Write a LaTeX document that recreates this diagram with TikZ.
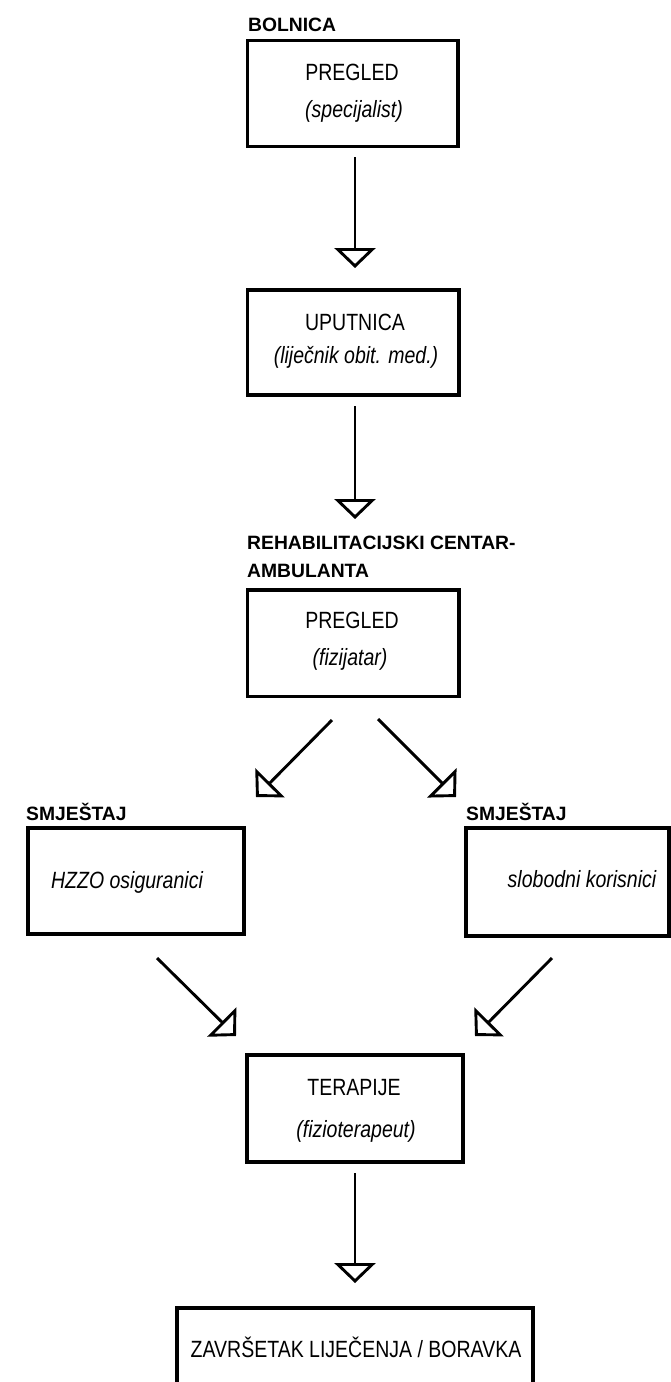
\documentclass[tikz,border=0pt]{standalone}
\usepackage{fontspec}
\setmainfont{Liberation Sans}
\newfontfamily\narrowfont[FakeStretch=0.83]{Liberation Sans}
\usetikzlibrary{arrows.meta}
\begin{document}
\begin{tikzpicture}[x=1pt,y=-1pt,
  boxst/.style={draw, line width=3.3pt, rectangle, inner sep=0pt},
  lblst/.style={anchor=base west, inner sep=0pt, font=\fontsize{19.3}{23}\selectfont\bfseries},
  txtst/.style={anchor=base, inner sep=0pt, font=\narrowfont\fontsize{23.5}{28}\selectfont},
  ittxt/.style={txtst, font=\narrowfont\fontsize{23.5}{28}\selectfont\itshape},
  flowarrow/.style={line width=2.9pt, -{Triangle[open, length=20pt, width=41pt]}}
]
\useasboundingbox (0,0) rectangle (671,1382);
\fill[white] (0,0) rectangle (671,1382);

% labels
\node[lblst] (lbolnica) at (248,31) {BOLNICA};
\node[lblst] (lrehab1) at (247,549) {REHABILITACIJSKI CENTAR-};
\node[lblst] (lrehab2) at (247,577) {AMBULANTA};
\node[lblst] (lsmjl) at (26,820) {SMJEŠTAJ};
\node[lblst] (lsmjr) at (466,820) {SMJEŠTAJ};

% boxes
\node[boxst, minimum width=210.5pt, minimum height=106pt] (b1) at (352.75,93.7) {};
\node[boxst, minimum width=211.5pt, minimum height=105pt] (b2) at (353.25,342.5) {};
\node[boxst, minimum width=211.5pt, minimum height=106.5pt] (b3) at (353.25,643.25) {};
\node[boxst, minimum width=216pt, minimum height=106pt] (bl) at (136,881) {};
\node[boxst, minimum width=203pt, minimum height=108pt] (br) at (567.5,882) {};
\node[boxst, minimum width=216pt, minimum height=107pt] (bt) at (355,1108.5) {};
\node[boxst, minimum width=356pt, minimum height=100pt] (bz) at (355,1358) {};

% texts
\node[txtst] (t1a) at (352,80) {PREGLED};
\node[ittxt] (t1b) at (354,117) {(specijalist)};
\node[txtst] (t2a) at (355,330) {UPUTNICA};
\node[ittxt] (t2b) at (356,363) {(liječnik obit. med.)};
\node[txtst] (t3a) at (352,628) {PREGLED};
\node[ittxt] (t3b) at (350,665) {(fizijatar)};
\node[ittxt] (tl) at (127,888) {HZZO osiguranici};
\node[ittxt] (tr) at (582,887) {slobodni korisnici};
\node[txtst] (tta) at (354,1095) {TERAPIJE};
\node[ittxt] (ttb) at (356,1137) {(fizioterapeut)};
\node[txtst] (tz) at (356,1357) {ZAVRŠETAK LIJEČENJA / BORAVKA};

% connector end points
\coordinate (a1s) at (355,157);  \coordinate (a1e) at (355,268);
\coordinate (a2s) at (355,406);  \coordinate (a2e) at (355,519);
\coordinate (a3s) at (332,720);  \coordinate (a3e) at (256,797);
\coordinate (a4s) at (378,719);  \coordinate (a4e) at (456,797);
\coordinate (a5s) at (157,958);  \coordinate (a5e) at (236,1036);
\coordinate (a6s) at (552,958);  \coordinate (a6e) at (475,1036);
\coordinate (a7s) at (355,1173); \coordinate (a7e) at (355,1283);

\draw[flowarrow] (a1s) -- (a1e);
\draw[flowarrow] (a2s) -- (a2e);
\draw[flowarrow] (a3s) -- (a3e);
\draw[flowarrow] (a4s) -- (a4e);
\draw[flowarrow] (a5s) -- (a5e);
\draw[flowarrow] (a6s) -- (a6e);
\draw[flowarrow] (a7s) -- (a7e);
\end{tikzpicture}
\end{document}
